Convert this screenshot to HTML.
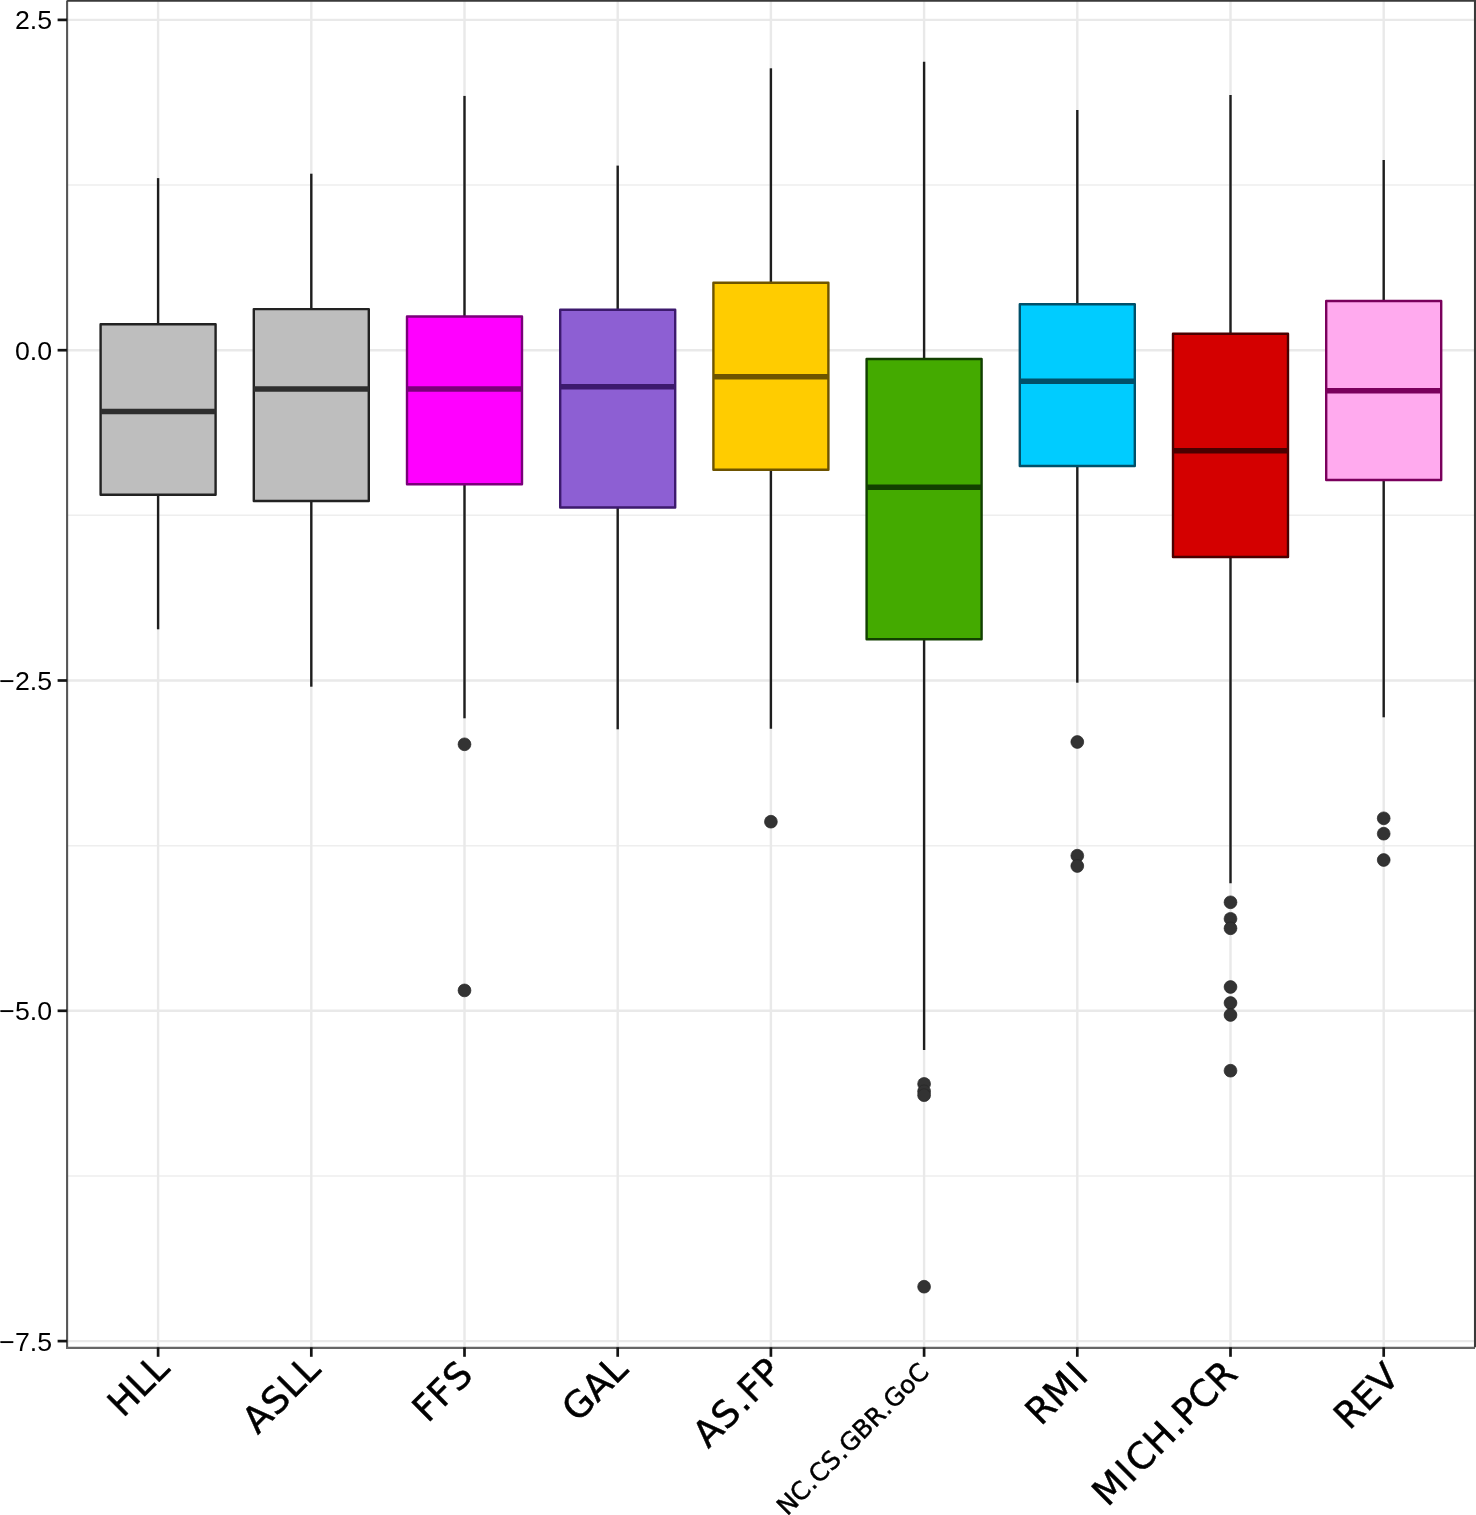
<!DOCTYPE html>
<html lang="en">
<head>
<meta charset="utf-8">
<title>Boxplot</title>
<style>
html,body{margin:0;padding:0;background:#ffffff;}
body{width:1476px;height:1515px;overflow:hidden;}
svg{display:block;}
.yl{font-family:"Liberation Sans",Arial,Helvetica,sans-serif;font-size:26.7px;fill:#000000;}
.xl{font-kerning:none;stroke:#000000;stroke-width:0.5px;font-family:"DejaVu Sans","Liberation Sans",sans-serif;fill:#000000;}
</style>
</head>
<body>
<svg width="1476" height="1515" viewBox="0 0 1476 1515">
<rect x="0" y="0" width="1476" height="1515" fill="#ffffff"/>
<g stroke="#e9e9e9" fill="none">
<line x1="67.1" x2="1475.0" y1="185.05" y2="185.05" stroke-width="1.5" stroke="#eeeeee"/>
<line x1="67.1" x2="1475.0" y1="515.35" y2="515.35" stroke-width="1.5" stroke="#eeeeee"/>
<line x1="67.1" x2="1475.0" y1="845.65" y2="845.65" stroke-width="1.5" stroke="#eeeeee"/>
<line x1="67.1" x2="1475.0" y1="1175.95" y2="1175.95" stroke-width="1.5" stroke="#eeeeee"/>
<line x1="67.1" x2="1475.0" y1="19.90" y2="19.90" stroke-width="2.4"/>
<line x1="67.1" x2="1475.0" y1="350.20" y2="350.20" stroke-width="2.4"/>
<line x1="67.1" x2="1475.0" y1="680.50" y2="680.50" stroke-width="2.4"/>
<line x1="67.1" x2="1475.0" y1="1010.80" y2="1010.80" stroke-width="2.4"/>
<line x1="67.1" x2="1475.0" y1="1341.10" y2="1341.10" stroke-width="2.4"/>
<line x1="158.10" x2="158.10" y1="0.6" y2="1347.3" stroke-width="2.4"/>
<line x1="311.30" x2="311.30" y1="0.6" y2="1347.3" stroke-width="2.4"/>
<line x1="464.50" x2="464.50" y1="0.6" y2="1347.3" stroke-width="2.4"/>
<line x1="617.70" x2="617.70" y1="0.6" y2="1347.3" stroke-width="2.4"/>
<line x1="770.90" x2="770.90" y1="0.6" y2="1347.3" stroke-width="2.4"/>
<line x1="924.10" x2="924.10" y1="0.6" y2="1347.3" stroke-width="2.4"/>
<line x1="1077.30" x2="1077.30" y1="0.6" y2="1347.3" stroke-width="2.4"/>
<line x1="1230.50" x2="1230.50" y1="0.6" y2="1347.3" stroke-width="2.4"/>
<line x1="1383.70" x2="1383.70" y1="0.6" y2="1347.3" stroke-width="2.4"/>
</g>
<g>
<line x1="158.10" x2="158.10" y1="178.10" y2="324.20" stroke="#1e1e1e" stroke-width="2.4"/>
<line x1="158.10" x2="158.10" y1="494.80" y2="629.30" stroke="#1e1e1e" stroke-width="2.4"/>
<rect x="100.60" y="324.20" width="115.00" height="170.60" fill="#bebebe" stroke="#222222" stroke-width="2.4" stroke-linejoin="round"/>
<line x1="100.60" x2="215.60" y1="411.40" y2="411.40" stroke="#2e2e2e" stroke-width="5.5"/>
</g>
<g>
<line x1="311.30" x2="311.30" y1="173.70" y2="309.10" stroke="#1e1e1e" stroke-width="2.4"/>
<line x1="311.30" x2="311.30" y1="501.00" y2="686.70" stroke="#1e1e1e" stroke-width="2.4"/>
<rect x="253.80" y="309.10" width="115.00" height="191.90" fill="#bebebe" stroke="#222222" stroke-width="2.4" stroke-linejoin="round"/>
<line x1="253.80" x2="368.80" y1="389.00" y2="389.00" stroke="#2e2e2e" stroke-width="5.5"/>
</g>
<g>
<circle cx="464.50" cy="744.30" r="6.4" fill="#333333" stroke="#262626" stroke-width="0.7"/>
<circle cx="464.50" cy="990.40" r="6.4" fill="#333333" stroke="#262626" stroke-width="0.7"/>
<line x1="464.50" x2="464.50" y1="95.90" y2="316.50" stroke="#1e1e1e" stroke-width="2.4"/>
<line x1="464.50" x2="464.50" y1="484.30" y2="718.30" stroke="#1e1e1e" stroke-width="2.4"/>
<rect x="407.00" y="316.50" width="115.00" height="167.80" fill="#ff00ff" stroke="#7a007a" stroke-width="2.4" stroke-linejoin="round"/>
<line x1="407.00" x2="522.00" y1="389.00" y2="389.00" stroke="#7a007a" stroke-width="5.5"/>
</g>
<g>
<line x1="617.70" x2="617.70" y1="165.60" y2="309.80" stroke="#1e1e1e" stroke-width="2.4"/>
<line x1="617.70" x2="617.70" y1="507.50" y2="729.30" stroke="#1e1e1e" stroke-width="2.4"/>
<rect x="560.20" y="309.80" width="115.00" height="197.70" fill="#8d5fd3" stroke="#3d1a6e" stroke-width="2.4" stroke-linejoin="round"/>
<line x1="560.20" x2="675.20" y1="386.70" y2="386.70" stroke="#3d1a6e" stroke-width="5.5"/>
</g>
<g>
<circle cx="770.90" cy="821.70" r="6.4" fill="#333333" stroke="#262626" stroke-width="0.7"/>
<line x1="770.90" x2="770.90" y1="68.30" y2="282.80" stroke="#1e1e1e" stroke-width="2.4"/>
<line x1="770.90" x2="770.90" y1="469.80" y2="728.70" stroke="#1e1e1e" stroke-width="2.4"/>
<rect x="713.40" y="282.80" width="115.00" height="187.00" fill="#ffcc00" stroke="#6e5400" stroke-width="2.4" stroke-linejoin="round"/>
<line x1="713.40" x2="828.40" y1="376.70" y2="376.70" stroke="#6e5400" stroke-width="5.5"/>
</g>
<g>
<circle cx="924.10" cy="1083.90" r="6.4" fill="#333333" stroke="#262626" stroke-width="0.7"/>
<circle cx="924.10" cy="1091.30" r="6.4" fill="#333333" stroke="#262626" stroke-width="0.7"/>
<circle cx="924.10" cy="1095.20" r="6.4" fill="#333333" stroke="#262626" stroke-width="0.7"/>
<circle cx="924.10" cy="1286.70" r="6.4" fill="#333333" stroke="#262626" stroke-width="0.7"/>
<line x1="924.10" x2="924.10" y1="61.70" y2="359.00" stroke="#1e1e1e" stroke-width="2.4"/>
<line x1="924.10" x2="924.10" y1="639.30" y2="1050.00" stroke="#1e1e1e" stroke-width="2.4"/>
<rect x="866.60" y="359.00" width="115.00" height="280.30" fill="#44aa00" stroke="#124000" stroke-width="2.4" stroke-linejoin="round"/>
<line x1="866.60" x2="981.60" y1="487.20" y2="487.20" stroke="#124000" stroke-width="5.5"/>
</g>
<g>
<circle cx="1077.30" cy="742.00" r="6.4" fill="#333333" stroke="#262626" stroke-width="0.7"/>
<circle cx="1077.30" cy="855.70" r="6.4" fill="#333333" stroke="#262626" stroke-width="0.7"/>
<circle cx="1077.30" cy="866.00" r="6.4" fill="#333333" stroke="#262626" stroke-width="0.7"/>
<line x1="1077.30" x2="1077.30" y1="110.00" y2="304.30" stroke="#1e1e1e" stroke-width="2.4"/>
<line x1="1077.30" x2="1077.30" y1="466.00" y2="682.70" stroke="#1e1e1e" stroke-width="2.4"/>
<rect x="1019.80" y="304.30" width="115.00" height="161.70" fill="#00ccff" stroke="#00506a" stroke-width="2.4" stroke-linejoin="round"/>
<line x1="1019.80" x2="1134.80" y1="381.30" y2="381.30" stroke="#00506a" stroke-width="5.5"/>
</g>
<g>
<circle cx="1230.50" cy="902.30" r="6.4" fill="#333333" stroke="#262626" stroke-width="0.7"/>
<circle cx="1230.50" cy="918.80" r="6.4" fill="#333333" stroke="#262626" stroke-width="0.7"/>
<circle cx="1230.50" cy="928.30" r="6.4" fill="#333333" stroke="#262626" stroke-width="0.7"/>
<circle cx="1230.50" cy="987.00" r="6.4" fill="#333333" stroke="#262626" stroke-width="0.7"/>
<circle cx="1230.50" cy="1003.00" r="6.4" fill="#333333" stroke="#262626" stroke-width="0.7"/>
<circle cx="1230.50" cy="1015.00" r="6.4" fill="#333333" stroke="#262626" stroke-width="0.7"/>
<circle cx="1230.50" cy="1070.70" r="6.4" fill="#333333" stroke="#262626" stroke-width="0.7"/>
<line x1="1230.50" x2="1230.50" y1="95.00" y2="333.70" stroke="#1e1e1e" stroke-width="2.4"/>
<line x1="1230.50" x2="1230.50" y1="557.00" y2="883.30" stroke="#1e1e1e" stroke-width="2.4"/>
<rect x="1173.00" y="333.70" width="115.00" height="223.30" fill="#d40000" stroke="#4a0000" stroke-width="2.4" stroke-linejoin="round"/>
<line x1="1173.00" x2="1288.00" y1="450.70" y2="450.70" stroke="#4a0000" stroke-width="5.5"/>
</g>
<g>
<circle cx="1383.70" cy="818.30" r="6.4" fill="#333333" stroke="#262626" stroke-width="0.7"/>
<circle cx="1383.70" cy="833.70" r="6.4" fill="#333333" stroke="#262626" stroke-width="0.7"/>
<circle cx="1383.70" cy="860.00" r="6.4" fill="#333333" stroke="#262626" stroke-width="0.7"/>
<line x1="1383.70" x2="1383.70" y1="160.00" y2="301.00" stroke="#1e1e1e" stroke-width="2.4"/>
<line x1="1383.70" x2="1383.70" y1="480.00" y2="717.30" stroke="#1e1e1e" stroke-width="2.4"/>
<rect x="1326.20" y="301.00" width="115.00" height="179.00" fill="#ffaaee" stroke="#7a005c" stroke-width="2.4" stroke-linejoin="round"/>
<line x1="1326.20" x2="1441.20" y1="390.70" y2="390.70" stroke="#7a005c" stroke-width="5.5"/>
</g>
<path d="M67.10 0.60 V1348.90" fill="none" stroke="#565656" stroke-width="2.1"/>
<path d="M66.05 1347.90 H1475.00" fill="none" stroke="#666666" stroke-width="2.4"/>
<path d="M67.10 0.60 H1475.00 V1347.30" fill="none" stroke="#3a3a3a" stroke-width="2.1"/>
<g stroke="#141414" stroke-width="2.7">
<line x1="57.6" x2="67.1" y1="19.90" y2="19.90"/>
<line x1="57.6" x2="67.1" y1="350.20" y2="350.20"/>
<line x1="57.6" x2="67.1" y1="680.50" y2="680.50"/>
<line x1="57.6" x2="67.1" y1="1010.80" y2="1010.80"/>
<line x1="57.6" x2="67.1" y1="1341.10" y2="1341.10"/>
<line x1="158.10" x2="158.10" y1="1347.3" y2="1356.8"/>
<line x1="311.30" x2="311.30" y1="1347.3" y2="1356.8"/>
<line x1="464.50" x2="464.50" y1="1347.3" y2="1356.8"/>
<line x1="617.70" x2="617.70" y1="1347.3" y2="1356.8"/>
<line x1="770.90" x2="770.90" y1="1347.3" y2="1356.8"/>
<line x1="924.10" x2="924.10" y1="1347.3" y2="1356.8"/>
<line x1="1077.30" x2="1077.30" y1="1347.3" y2="1356.8"/>
<line x1="1230.50" x2="1230.50" y1="1347.3" y2="1356.8"/>
<line x1="1383.70" x2="1383.70" y1="1347.3" y2="1356.8"/>
</g>
<text class="yl" x="52.0" y="29.30" text-anchor="end">2.5</text>
<text class="yl" x="52.0" y="359.60" text-anchor="end">0.0</text>
<text class="yl" x="52.0" y="689.90" text-anchor="end">−2.5</text>
<text class="yl" x="52.0" y="1020.20" text-anchor="end">−5.0</text>
<text class="yl" x="52.0" y="1350.50" text-anchor="end">−7.5</text>
<text class="xl" font-size="36.6" x="-68.28 -40.77 -20.39" y="0" transform="translate(171.20 1370.20) rotate(-45)">HLL</text>
<text class="xl" font-size="36.6" x="-90.84 -64.91 -40.77 -20.39" y="0" transform="translate(322.05 1371.00) rotate(-45)">ASLL</text>
<text class="xl" font-size="36.6" x="-67.13 -46.08 -24.13" y="0" transform="translate(475.30 1376.20) rotate(-45)">FFS</text>
<text class="xl" font-size="36.6" x="-73.78 -45.42 -20.39" y="0" transform="translate(629.60 1371.20) rotate(-45)">GAL</text>
<text class="xl" font-size="36.6" x="-106.51 -80.57 -55.59 -43.12 -22.07" y="0" transform="translate(783.55 1373.95) rotate(-45)">AS.FP</text>
<text class="xl" font-size="24.8" x="-202.27 -183.72 -165.84 -157.38 -139.46 -122.54 -114.08 -94.86 -77.85 -60.04 -51.58 -32.42 -17.31" y="0" transform="translate(930.20 1373.50) rotate(-45)">NC.CS.GBR.GoC</text>
<text class="xl" font-size="36.6" x="-71.70 -46.62 -13.10" y="0" transform="translate(1091.55 1376.00) rotate(-45)">RMI</text>
<text class="xl" font-size="36.6" x="-186.03 -152.51 -139.41 -113.88 -85.53 -73.05 -50.99 -25.43" y="0" transform="translate(1239.15 1376.10) rotate(-45)">MICH.PCR</text>
<text class="xl" font-size="36.6" x="-73.60 -48.16 -25.04" y="0" transform="translate(1401.20 1378.90) rotate(-45)">REV</text>
</svg>
</body>
</html>
